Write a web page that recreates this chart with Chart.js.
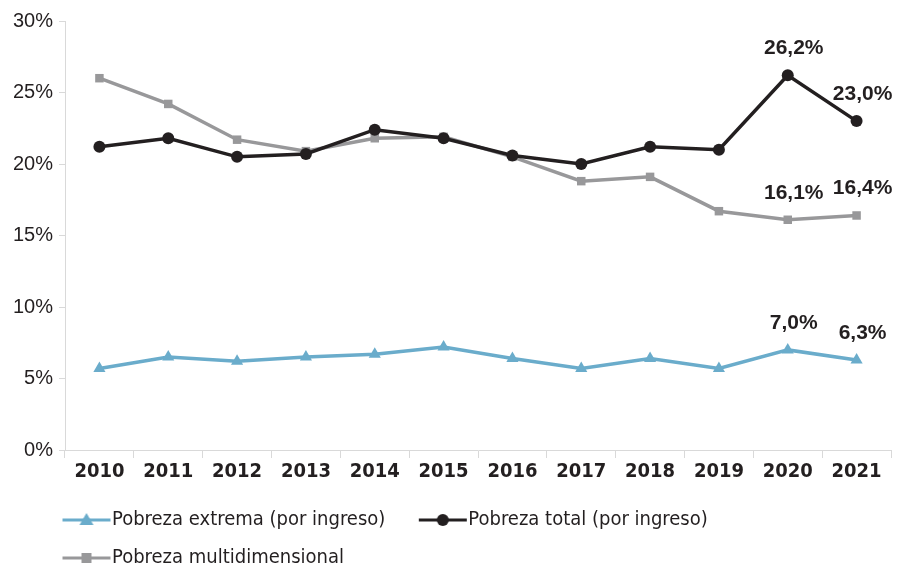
<!DOCTYPE html>
<html>
<head>
<meta charset="utf-8">
<script src="https://cdn.jsdelivr.net/npm/chart.js@4.4.0/dist/chart.umd.min.js"></script>
<style>
  html, body { margin: 0; padding: 0; background: #fff; }
  #wrap { width: 898px; height: 569px; }
</style>
</head>
<body>
<div id="wrap"><canvas id="myChart" width="898" height="569"></canvas></div>
<script>
var years = ["2010", "2011", "2012", "2013", "2014", "2015", "2016", "2017", "2018", "2019", "2020", "2021"];
var pobrezaExtrema = [5.7, 6.5, 6.2, 6.5, 6.7, 7.2, 6.4, 5.7, 6.4, 5.7, 7.0, 6.3];
var pobrezaTotal = [21.2, 21.8, 20.5, 20.7, 22.4, 21.8, 20.6, 20.0, 21.2, 21.0, 26.2, 23.0];
var pobrezaMulti = [26.0, 24.2, 21.7, 20.9, 21.8, 21.9, 20.5, 18.8, 19.1, 16.7, 16.1, 16.4];
var yTicks = [0, 5, 10, 15, 20, 25, 30];
var labeledYears = ["2020", "2021"];

var NARROW = "'Liberation Sans Narrow', 'DejaVu Sans Condensed', sans-serif";

// legend marker: line with the point drawn in the middle
// (canvas is centered on the legend box, line starts 15px into the box)
function legendMarker(color, shape) {
	var c = document.createElement("canvas");
	c.width = 80;
	c.height = 20;
	var g = c.getContext("2d");
	g.strokeStyle = color;
	g.fillStyle = color;
	g.lineWidth = 3;
	g.beginPath();
	g.moveTo(28, 10);
	g.lineTo(76, 10);
	g.stroke();
	var cx = 52;
	g.beginPath();
	if (shape == "triangle") {
		g.moveTo(cx, 3); g.lineTo(cx + 7, 15); g.lineTo(cx - 7, 15);
	} else if (shape == "circle") {
		g.arc(cx, 10, 6, 0, Math.PI * 2);
	} else {
		g.rect(cx - 5, 5, 10, 10);
	}
	g.closePath();
	g.fill();
	return c;
}

var colors = ["#6aaccb", "#231f20", "#98989a"];
var shapes = ["triangle", "circle", "rect"];

var pointLabels = {
	id: "pointLabels",
	afterLayout: function(chart) {
		chart.legend.left = 29;
		chart.legend.top = 492;
	},
	afterDatasetsDraw: function(chart) {
		var ctx = chart.ctx;
		ctx.save();
		ctx.font = "bold 21px 'Liberation Sans', Arial, sans-serif";
		ctx.fillStyle = "#231f20";
		ctx.textAlign = "center";
		ctx.textBaseline = "middle";
		chart.data.datasets.forEach(function(ds, i) {
			var meta = chart.getDatasetMeta(i);
			meta.data.forEach(function(pt, j) {
				if (labeledYears.indexOf(chart.data.labels[j]) < 0) return;
				var txt = ds.data[j].toFixed(1).replace(".", ",") + "%";
				ctx.fillText(txt, pt.x + 6, pt.y - 27);
			});
		});
		ctx.restore();
	}
};

var ctx = document.getElementById("myChart");

var data = {
	labels : years,
	datasets : [
		{
			label : "Pobreza extrema (por ingreso)",
			data : pobrezaExtrema,
			borderColor : colors[0],
			backgroundColor : colors[0],
			borderWidth : 3.5,
			pointStyle : "triangle",
			pointRadius : 7,
			pointBorderWidth : 0,
			lineTension : 0
		},
		{
			label : "Pobreza total (por ingreso)",
			data : pobrezaTotal,
			borderColor : colors[1],
			backgroundColor : colors[1],
			borderWidth : 3.5,
			pointStyle : "circle",
			pointRadius : 6,
			pointBorderWidth : 0,
			lineTension : 0
		},
		{
			label : "Pobreza multidimensional",
			data : pobrezaMulti,
			borderColor : colors[2],
			backgroundColor : colors[2],
			borderWidth : 3.5,
			pointStyle : "rect",
			pointRadius : 6,
			pointBorderWidth : 0,
			lineTension : 0
		}
	]
};

var myChart = new Chart(ctx, {
	type : "line",
	data : data,
	plugins : [pointLabels],
	options : {
		responsive : false,
		animation : false,
		layout : { padding : { left : 0, right : 5, top : 21, bottom : -3 } },
		plugins : {
			tooltip : { enabled : false },
			legend : {
				position : "bottom",
				align : "start",
				labels : {
					usePointStyle : true,
					pointStyleWidth : 55,
					padding : 18,
					color : "#231f20",
					font : { family : NARROW, size : 20 },
					generateLabels : function(chart) {
						return chart.data.datasets.map(function(ds, i) {
							return {
								text : ds.label,
								pointStyle : legendMarker(colors[i], shapes[i]),
								fillStyle : colors[i],
								strokeStyle : colors[i],
								lineWidth : 0,
								fontColor : "#231f20",
								datasetIndex : i
							};
						});
					}
				}
			}
		},
		scales : {
			x : {
				offset : true,
				grid : { offset : true, drawOnChartArea : false, tickLength : 8, color : "#d9d9d9" },
				border : { color : "#d9d9d9" },
				ticks : { color : "#231f20", font : { family : NARROW, size : 20, weight : "bold" }, padding : 2 }
			},
			y : {
				min : 0,
				max : 30,
				afterFit : function(s) { s.width = 65; },
				afterBuildTicks : function(s) { s.ticks = yTicks.map(function(v) { return { value : v }; }); },
				grid : { drawOnChartArea : false, tickLength : 6, color : "#d9d9d9" },
				border : { color : "#d9d9d9" },
				ticks : {
					color : "#231f20",
					font : { family : "'Liberation Sans', Arial, sans-serif", size : 20 },
					padding : 6,
					callback : function(v) { return v + "%"; }
				}
			}
		}
	}
});
</script>
</body>
</html>
